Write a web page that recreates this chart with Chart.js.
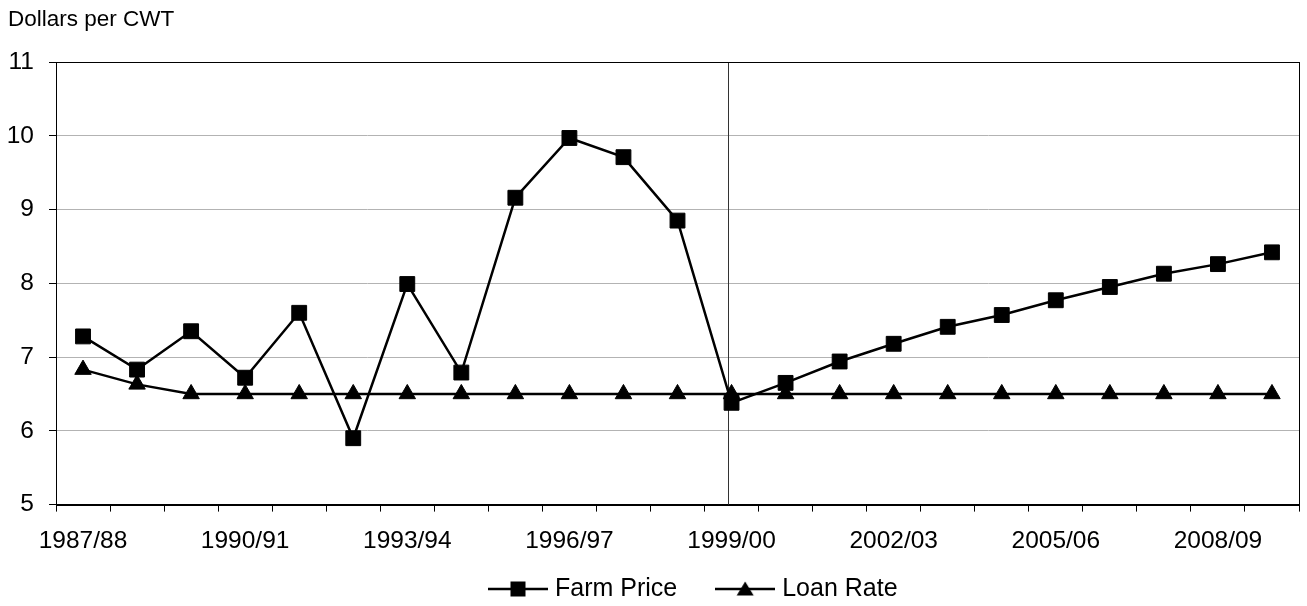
<!DOCTYPE html>
<html><head><meta charset="utf-8">
<script src="https://cdn.jsdelivr.net/npm/chart.js@4/dist/chart.umd.min.js"></script>
<style>html,body{margin:0;padding:0;background:#fff;}#wrap{width:1307px;height:606px;}</style>
</head><body><div id="wrap"><canvas id="c" width="1307" height="606"></canvas></div>
<script>
const categories = ['1987/88','1988/89','1989/90','1990/91','1991/92','1992/93','1993/94','1994/95','1995/96','1996/97','1997/98','1998/99','1999/00','2000/01','2001/02','2002/03','2003/04','2004/05','2005/06','2006/07','2007/08','2008/09','2009/10'];
const farmPrice = [7.28,6.83,7.35,6.72,7.60,5.90,7.99,6.79,9.16,9.97,9.71,8.85,6.38,6.65,6.94,7.18,7.41,7.57,7.77,7.95,8.13,8.26,8.42];
const loanRate = [6.83,6.63,6.50,6.50,6.50,6.50,6.50,6.50,6.50,6.50,6.50,6.50,6.50,6.50,6.50,6.50,6.50,6.50,6.50,6.50,6.50,6.50,6.50];
const yTicks = [5,6,7,8,9,10,11];
const seriesNames = ['Farm Price','Loan Rate'];
const yTitle = 'Dollars per CWT';
const labelEvery = 3;
const markerCategory = '1999/00';

const FONT = "'Liberation Sans', Arial, sans-serif";

function legendIcon(kind){
  const c = document.createElement('canvas');
  c.width = 60; c.height = 20;
  const g = c.getContext('2d');
  g.strokeStyle = '#000'; g.lineWidth = 2.5;
  g.beginPath(); g.moveTo(0,10); g.lineTo(60,10); g.stroke();
  g.fillStyle = '#000';
  if (kind === 'square') { g.fillRect(22.5,2.5,15,15); }
  else { g.beginPath(); g.moveTo(30,2.5); g.lineTo(38.5,16.5); g.lineTo(21.5,16.5); g.closePath(); g.fill(); }
  return c;
}
const icons = [legendIcon('square'), legendIcon('triangle')];

const framePlugin = {
  id:'frame',
  afterLayout(chart){
    const lg = chart.legend;
    if (lg){
      lg.left += 42; lg.right += 42;
      lg.top = chart.height - 17 - 43.5 - 12.5;
      lg.bottom = chart.height;
    }
  },
  beforeDatasetsDraw(chart){
    const {ctx, chartArea:a, scales:{x}} = chart;
    ctx.save();
    const idx = categories.indexOf(markerCategory);
    const px = Math.round(x.getPixelForValue(idx - 0.07)) + 0.5;
    ctx.strokeStyle = '#333'; ctx.lineWidth = 1;
    ctx.beginPath(); ctx.moveTo(px, a.top); ctx.lineTo(px, a.bottom); ctx.stroke();
    ctx.strokeStyle = '#000';
    ctx.strokeRect(Math.round(a.left)+0.5, Math.round(a.top)+0.5, Math.round(a.right-a.left), Math.round(a.bottom-a.top));
    ctx.restore();
  }
};

new Chart(document.getElementById('c'), {
  type:'line',
  data:{
    labels: categories,
    datasets:[
      {label:seriesNames[0], data:farmPrice, borderColor:'#000', backgroundColor:'#000', borderWidth:2.5, tension:0,
       pointStyle:'rect', pointRadius:10.5, pointBorderWidth:1, pointBackgroundColor:'#000', pointBorderColor:'#000'},
      {label:seriesNames[1], data:loanRate, borderColor:'#000', backgroundColor:'#000', borderWidth:2.5, tension:0,
       pointStyle:'triangle', pointRadius:9.5, pointBorderWidth:1, pointBackgroundColor:'#000', pointBorderColor:'#000'}
    ]
  },
  options:{
    responsive:false, animation:false, devicePixelRatio:1,
    layout:{autoPadding:false, padding:{left:8,right:8,top:0,bottom:0}},
    plugins:{
      title:{display:true, text:yTitle, align:'start', color:'#000', font:{family:FONT,size:22.5,weight:'normal'}, padding:{top:6,bottom:29}},
      legend:{position:'bottom', maxHeight:35,
        labels:{usePointStyle:true, pointStyleWidth:49, padding:43.5, color:'#000', font:{family:FONT,size:25},
          generateLabels:(chart)=>chart.data.datasets.map((ds,i)=>({text:ds.label, pointStyle:icons[i], datasetIndex:i, hidden:false, lineWidth:0, strokeStyle:'rgba(0,0,0,0)', fillStyle:'rgba(0,0,0,0)', fontColor:'#000'}))}},
      tooltip:{enabled:false}
    },
    scales:{
      x:{type:'category', offset:true,
        afterFit:(s)=>{ s.paddingLeft = 0; s.paddingRight = 0; },
        grid:{offset:true, drawOnChartArea:false, drawTicks:true, tickLength:7, color:'#000', tickColor:'#000'},
        border:{display:true, color:'#000', width:1},
        ticks:{autoSkip:false, maxRotation:0, minRotation:0, padding:15, color:'#000', font:{family:FONT,size:24.5},
          callback:(v,i)=> i % labelEvery === 0 ? categories[i] : ''}},
      y:{min:yTicks[0], max:yTicks[yTicks.length-1],
        afterBuildTicks:(s)=>{ s.ticks = yTicks.map(v=>({value:v})); },
        afterFit:(s)=>{ s.width = 48; },
        ticks:{padding:15, color:'#000', font:{family:FONT,size:24.5}},
        grid:{color:'#b3b3b3', tickColor:'#000', tickLength:7, drawTicks:true, lineWidth:1},
        border:{color:'#000', width:1}}
    }
  },
  plugins:[framePlugin]
});
</script></body></html>
